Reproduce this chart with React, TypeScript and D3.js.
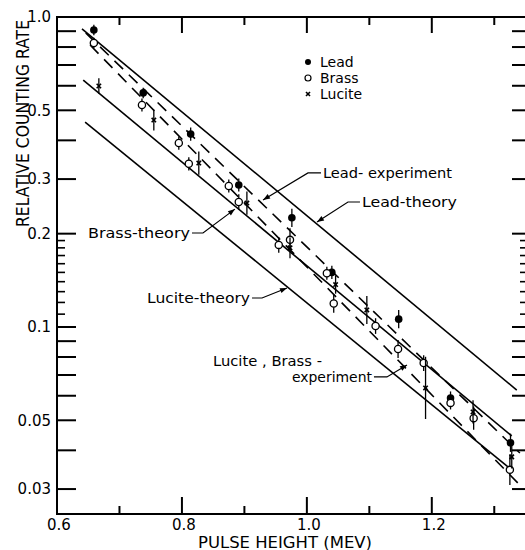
import React from 'react';
import * as d3 from 'd3';

// ---------- data ----------
const xMajorTicks = [0.6, 0.8, 1.0, 1.2];
const xMinorTicks = [0.7, 0.9, 1.1, 1.3];
const xLabelTexts = ['0.6', '0.8', '1.0', '1.2'];
const yMajorTicks = [0.9, 0.8, 0.7, 0.6, 0.5, 0.4, 0.3, 0.2, 0.1, 0.09, 0.08, 0.07, 0.06, 0.05, 0.04, 0.03];
const yMinorTicks = [0.19, 0.18, 0.17, 0.16, 0.15, 0.14, 0.13, 0.12, 0.11];
const yLabelValues = [1.0, 0.5, 0.3, 0.2, 0.1, 0.05, 0.03];
const yLabelTexts = ['1.0', '0.5', '0.3', '0.2', '0.1', '0.05', '0.03'];

const leadX = [0.659, 0.738, 0.814, 0.891, 0.976, 1.040, 1.147, 1.230, 1.326];
const leadY = [0.908, 0.569, 0.419, 0.287, 0.225, 0.150, 0.106, 0.059, 0.0423];
const leadErr = [0.04, 0.04, 0.05, 0.05, 0.07, 0.05, 0.07, 0.05, 0.07];

const brassX = [0.659, 0.736, 0.795, 0.811, 0.875, 0.891, 0.955, 0.973, 1.032, 1.043, 1.110, 1.146, 1.187, 1.230, 1.267, 1.325];
const brassY = [0.824, 0.520, 0.392, 0.336, 0.285, 0.253, 0.184, 0.191, 0.149, 0.119, 0.1007, 0.0849, 0.0765, 0.0569, 0.0508, 0.0346];
const brassErr = [0.04, 0.05, 0.05, 0.05, 0.05, 0.06, 0.06, 0.09, 0.05, 0.07, 0.06, 0.07, 0.06, 0.05, 0.09, 0.12];

const luciteX = [0.667, 0.755, 0.827, 0.904, 0.973, 1.046, 1.096, 1.190, 1.266, 1.328];
const luciteY = [0.599, 0.465, 0.338, 0.251, 0.180, 0.137, 0.1135, 0.0636, 0.0532, 0.0381];
const luciteErr = [0.06, 0.08, 0.09, 0.09, 0.08, 0.07, 0.11, 0.26, 0.09, 0.09];

const lineX0 = [0.640, 0.642, 0.645, 0.646, 0.653];
const lineY0 = [0.915, 0.626, 0.458, 0.888, 0.812];
const lineX1 = [1.336, 1.328, 1.322, 1.341, 1.341];
const lineY1 = [0.0626, 0.0445, 0.0354, 0.0392, 0.0309];
const lineDashed = [false, false, false, true, true];

// annotations: label anchor (data), elbow x, arrow tip (data)
const annTexts = ['Lead- experiment', 'Lead-theory', 'Brass-theory', 'Lucite-theory', 'experiment'];
const annTextX = [1.0258, 1.0882, 0.8129, 0.9090, 1.1042];
const annTextY = [0.314, 0.253, 0.201, 0.124, 0.069];
const annAnchor = ['start', 'start', 'end', 'end', 'end'];
const annWidth = [129, 95, 102, 103, 80];
const annElbowX = [1.0018, 1.0658, 0.8337, 0.9282, 1.1282];
const annTipX = [0.9298, 1.0162, 0.8849, 0.9682, 1.1603];
const annTipY = [0.257, 0.218, 0.240, 0.1336, 0.0754];

const legendNames = ['Lead', 'Brass', 'Lucite'];

// ---------- chart ----------
const W = 525;
const H = 550;
const FONT = 'DejaVu Sans, Verdana, sans-serif';

function Cross({ cx, cy, s }: { cx: number; cy: number; s: number }) {
  return (
    <g stroke="#000" strokeWidth={1.6}>
      <line x1={cx - s} y1={cy - s} x2={cx + s} y2={cy + s} />
      <line x1={cx - s} y1={cy + s} x2={cx + s} y2={cy - s} />
    </g>
  );
}

export default function App() {
  const left = 57, top = 17, bottom = 514, right = 525.5;
  const x = d3.scaleLinear().domain([0.6, 1.35]).range([left, right]);
  const y = d3.scaleLog().domain([0.025, 1]).range([513.6, top]);

  const series = [
    { xs: leadX, ys: leadY, es: leadErr, kind: 'lead' },
    { xs: brassX, ys: brassY, es: brassErr, kind: 'brass' },
    { xs: luciteX, ys: luciteY, es: luciteErr, kind: 'lucite' },
  ];

  const lineGen = d3.line<[number, number]>().x(d => x(d[0])).y(d => y(d[1]));

  const arrowHead = (x0: number, y0: number, x1: number, y1: number) => {
    const ang = Math.atan2(y1 - y0, x1 - x0);
    const L = 7, Wd = 2.6;
    const bx = x1 - L * Math.cos(ang), by = y1 - L * Math.sin(ang);
    const px = -Math.sin(ang) * Wd, py = Math.cos(ang) * Wd;
    return `M${x1},${y1}L${bx + px},${by + py}L${bx - px},${by - py}Z`;
  };

  return (
    <svg width={W} height={H} style={{ position: 'absolute', left: 0, top: 0, background: '#fff' }} fontFamily={FONT}>
      <rect x={0} y={0} width={W} height={H} fill="#fff" />
      {/* frame */}
      <g stroke="#000" strokeWidth={2} fill="none">
        <line x1={left} y1={top} x2={W} y2={top} />
        <line x1={left} y1={bottom} x2={W} y2={bottom} />
        <line x1={left} y1={top - 1} x2={left} y2={bottom + 1} />
      </g>
      {/* ticks */}
      <g stroke="#000" strokeWidth={2}>
        {yMajorTicks.map((v, i) => <line key={'lm' + i} x1={left} x2={left + 19} y1={y(v)} y2={y(v)} />)}
        {yMinorTicks.map((v, i) => <line key={'ln' + i} x1={left} x2={left + 8} y1={y(v)} y2={y(v)} strokeWidth={1.6} />)}
        {yMajorTicks.map((v, i) => <line key={'rm' + i} x1={W - 13} x2={W} y1={y(v)} y2={y(v)} />)}
        {yMinorTicks.map((v, i) => <line key={'rn' + i} x1={W - 5} x2={W} y1={y(v)} y2={y(v)} strokeWidth={1.6} />)}
        {xMajorTicks.slice(1).map((v, i) => <line key={'bm' + i} x1={x(v)} x2={x(v)} y1={bottom} y2={bottom - 17} />)}
        {xMinorTicks.map((v, i) => <line key={'bn' + i} x1={x(v)} x2={x(v)} y1={bottom} y2={bottom - 8} />)}
        {xMajorTicks.slice(1).map((v, i) => <line key={'tm' + i} x1={x(v)} x2={x(v)} y1={top} y2={top + 16} />)}
        {xMinorTicks.map((v, i) => <line key={'tn' + i} x1={x(v)} x2={x(v)} y1={top} y2={top + 8} />)}
      </g>
      {/* tick labels */}
      <g fontSize={15} fill="#000">
        {yLabelValues.map((v, i) => (
          <text key={'yl' + i} x={51} y={y(v)} dy="0.36em" textAnchor="end">{yLabelTexts[i]}</text>
        ))}
        {xMajorTicks.map((v, i) => (
          <text key={'xl' + i} x={x(v) + 2} y={530} textAnchor="middle">{xLabelTexts[i]}</text>
        ))}
      </g>
      {/* axis titles */}
      <text x={198} y={547.5} fontSize={15} textLength={174} lengthAdjust="spacingAndGlyphs">PULSE  HEIGHT (MEV)</text>
      <text transform="translate(29,123.5) rotate(-90)" fontSize={17} textAnchor="middle" textLength={207} lengthAdjust="spacingAndGlyphs">RELATIVE  COUNTING  RATE</text>

      {/* lines */}
      <g fill="none" stroke="#000" strokeWidth={1.6}>
        {lineX0.map((_, i) => (
          <path key={'ln' + i}
            d={lineGen([[lineX0[i], lineY0[i]], [lineX1[i], lineY1[i]]]) || ''}
            strokeDasharray={lineDashed[i] ? '12,8' : undefined} />
        ))}
      </g>

      {/* error bars & markers */}
      {series.map((s, si) => (
        <g key={'s' + si}>
          {s.xs.map((xv, i) => (
            <line key={'e' + i} x1={x(xv)} x2={x(xv)} y1={y(s.ys[i] / (1 + s.es[i]))} y2={y(s.ys[i] * (1 + s.es[i]))}
              stroke="#000" strokeWidth={1.3} />
          ))}
          {s.xs.map((xv, i) => {
            const cx = x(xv), cy = y(s.ys[i]);
            if (s.kind === 'lead') return <circle key={'m' + i} cx={cx} cy={cy} r={3.8} fill="#000" />;
            if (s.kind === 'brass') return <circle key={'m' + i} cx={cx} cy={cy} r={3.6} fill="#fff" stroke="#000" strokeWidth={1.3} />;
            return <Cross key={'m' + i} cx={cx} cy={cy} s={2.2} />;
          })}
        </g>
      ))}

      {/* annotations */}
      <g fontSize={14} fill="#000">
        {annTexts.map((t, i) => {
          const tx = x(annTextX[i]), ty = y(annTextY[i]);
          const ex = x(annElbowX[i]);
          const sx = annAnchor[i] === 'start' ? tx - 2 : tx + 2;
          const tipX = x(annTipX[i]), tipY = y(annTipY[i]);
          return (
            <g key={'a' + i}>
              <text x={tx} y={ty} dy="0.36em" textAnchor={annAnchor[i] as any} textLength={annWidth[i]} lengthAdjust="spacingAndGlyphs">{t}</text>
              <path d={`M${sx},${ty}L${ex},${ty}L${tipX},${tipY}`} fill="none" stroke="#000" strokeWidth={1.2} />
              <path d={arrowHead(ex, ty, tipX, tipY)} fill="#000" />
            </g>
          );
        })}
        <text x={x(0.8497)} y={y(0.0777)} dy="0.36em" textLength={109} lengthAdjust="spacingAndGlyphs">Lucite , Brass -</text>
      </g>

      {/* legend */}
      <g fontSize={14}>
        <circle cx={308} cy={62} r={3} fill="#000" />
        <circle cx={308} cy={78} r={3} fill="#fff" stroke="#000" strokeWidth={1.2} />
        <Cross cx={308} cy={94} s={2} />
        {legendNames.map((n, i) => (
          <text key={'lg' + i} x={320} y={62 + i * 16} dy="0.36em">{n}</text>
        ))}
      </g>
    </svg>
  );
}
